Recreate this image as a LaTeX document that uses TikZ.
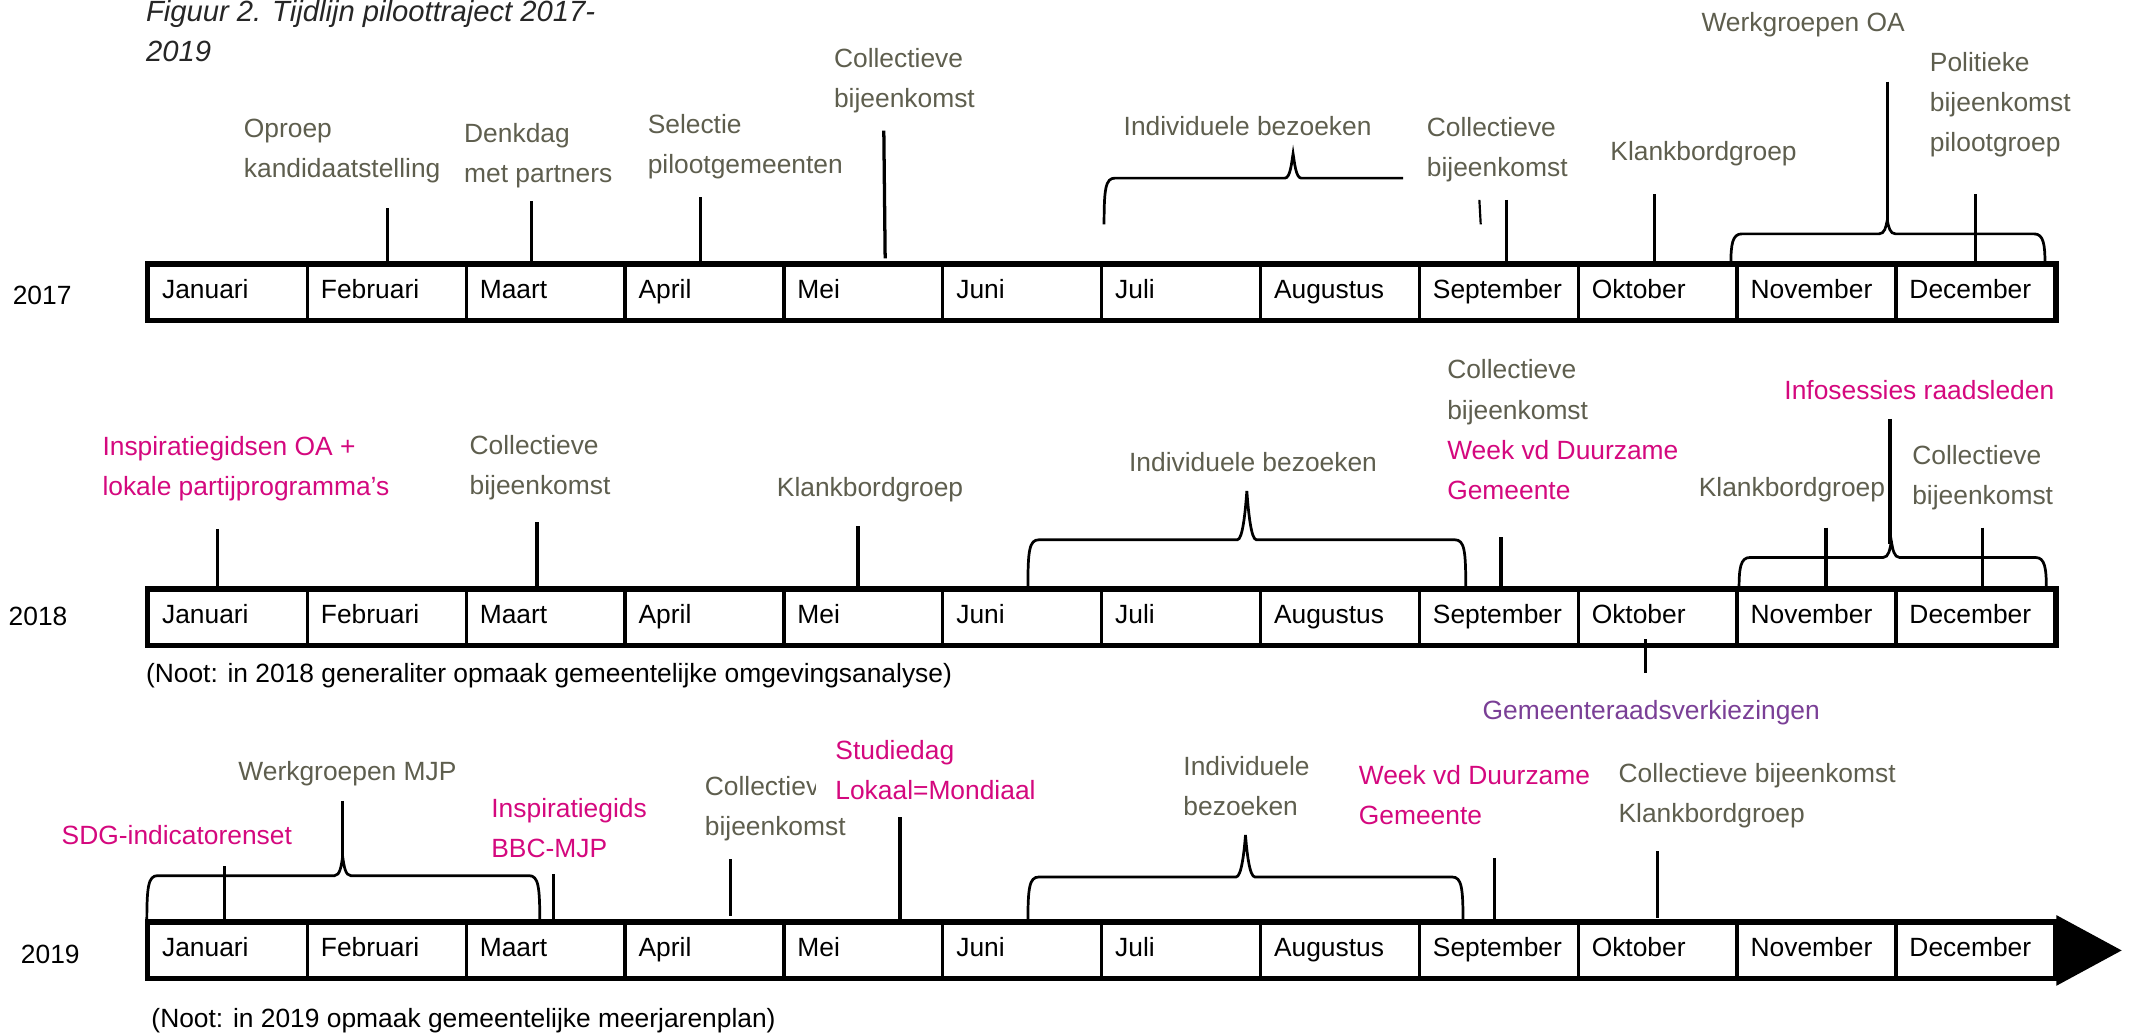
\documentclass[tikz,border=0pt]{standalone}
\usepackage{fontspec}
\setmainfont{Liberation Sans}
\usetikzlibrary{positioning}
\definecolor{labgray}{HTML}{5E5E4E}
\definecolor{hotpink}{HTML}{D4087E}
\definecolor{purp}{HTML}{7A3F96}
\begin{document}
\begin{tikzpicture}[x=0.5pt, y=-0.5pt,
 lbl/.style={font=\fontsize{9.7}{14.75}\selectfont, text=labgray, align=left, anchor=west, inner sep=0pt, yshift=-1pt},
 hot/.style={lbl, text=hotpink},
 plain/.style={lbl, text=black},
 month/.style={draw, line width=1.2pt, anchor=west, minimum width=58.42pt, minimum height=20pt, inner xsep=5pt, text width=48.42pt, align=left, font=\fontsize{9.7}{11}\selectfont},
 frame/.style={line width=1.6pt},
 tick/.style={line width=1.2pt},
 brace/.style={line width=1pt}]
\useasboundingbox (0,0) rectangle (1568,760);
% title
\node[plain, font=\fontsize{10.75}{14.7}\selectfont\itshape, text=black!85] (title) at (107,21) {Figuur 2. Tijdlijn piloottraject 2017-\\2019};
% the three year bars
\foreach \yr/\yy in {17/215, 18/454, 19/699}{
 \foreach \m [count=\i] in {Januari,Februari,Maart,April,Mei,Juni,Juli,Augustus,September,Oktober,November,December}{
  \node[month] (m\yr-\i) at ({108+(\i-1)*116.83},\yy) {\strut\m};
 }
 \draw[frame] (m\yr-1.north west) rectangle (m\yr-12.south east);
}
\fill (m19-12.east) ++(0,-26) -- ++(48,26) -- ++(-48,26) -- cycle;
\node[plain] (y17) at (9,215) {2017};
\node[plain] (y18) at (6,451) {2018};
\node[plain] (y19) at (15,700) {2019};

% 2017
\node[lbl] (oproep) at (179,109) {Oproep\\kandidaatstelling};
\node[lbl] (denkdag) at (341,112.5) {Denkdag\\met partners};
\node[lbl] (selectie) at (476,106) {Selectie\\pilootgemeenten};
\node[lbl] (coll17a) at (613,57.5) {Collectieve\\bijeenkomst};
\node[lbl] (indiv17) at (826,91) {Individuele bezoeken};
\node[lbl] (coll17b) at (1049,108) {Collectieve\\bijeenkomst};
\node[lbl] (klank17) at (1184,111) {Klankbordgroep};
\node[lbl] (werkoa) at (1251,16) {Werkgroepen OA};
\node[lbl] (politiek) at (1419,75) {Politieke\\bijeenkomst\\pilootgroep};
\draw[tick] (285,153) -- (285,196);
\draw[tick] (391,148) -- (391,196);
\draw[tick] (515,145) -- (515,193);
\draw[tick] (650,96) -- (651,190);
\draw[tick] (1108,147) -- (1108,194);
\draw[tick] (1217,143) -- (1217,193);
\draw[tick] (1453,143) -- (1453,193);
\draw[tick] (1388,60) -- (1388,164);
\draw[line width=0.8pt] (1088,147) -- (1089,165);
\draw[brace] (812,165) .. controls (812,139) and (813,131) .. (820,131) -- (945,131) .. controls (949,131) and (950,119) .. (951,113) .. controls (952,119) and (953,131) .. (957,131) -- (1032,131);
\draw[brace] (1273,194) .. controls (1273,180) and (1274,172) .. (1281,172) -- (1382,172) .. controls (1386,172) and (1387,167) .. (1388,162) .. controls (1389,167) and (1390,172) .. (1394,172) -- (1496,172) .. controls (1503,172) and (1504,180) .. (1504,194);

% 2018
\node[hot] (insp18) at (75,343) {Inspiratiegidsen OA +\\lokale partijprogramma’s};
\node[lbl] (coll18a) at (345,342) {Collectieve\\bijeenkomst};
\node[lbl] (klank18a) at (571,358) {Klankbordgroep};
\node[lbl] (indiv18) at (830,338) {Individuele bezoeken};
\node[lbl] (coll18b) at (1064,314) {Collectieve\\bijeenkomst\\\textcolor{hotpink}{Week vd Duurzame}\\\textcolor{hotpink}{Gemeente}};
\node[hot] (info18) at (1312,285) {Infosessies raadsleden};
\node[lbl] (klank18b) at (1249,358) {Klankbordgroep};
\node[lbl] (coll18c) at (1406,349) {Collectieve\\bijeenkomst};
\node[plain] (noot18) at (107,495) {(Noot: in 2018 generaliter opmaak gemeentelijke omgevingsanalyse)};
\node[lbl, text=purp] (verkiez) at (1090,522) {Gemeenteraadsverkiezingen};
\draw[tick] (160,389) -- (160,433);
\draw[tick] (395,384) -- (395,433);
\draw[tick] (631,387) -- (631,433);
\draw[tick] (1104,395) -- (1104,433);
\draw[tick] (1343,388) -- (1343,433);
\draw[tick] (1458,388) -- (1458,433);
\draw[tick] (1390,308) -- (1390,400);
\draw[tick] (1210,470) -- (1210,495);
\draw[brace] (756,431) .. controls (756,405) and (757,397) .. (764,397) -- (910,397) .. controls (914,397) and (916,375) .. (917,361) .. controls (918,375) and (920,397) .. (924,397) -- (1070,397) .. controls (1077,397) and (1078,405) .. (1078,431);
\draw[brace] (1279,433) .. controls (1279,418) and (1280,410) .. (1287,410) -- (1385,410) .. controls (1389,410) and (1390,404) .. (1391,398) .. controls (1392,404) and (1393,410) .. (1397,410) -- (1497,410) .. controls (1504,410) and (1505,418) .. (1505,433);

% 2019
\node[hot] (sdg) at (45,612) {SDG-indicatorenset};
\node[lbl] (werkmjp) at (175,567) {Werkgroepen MJP};
\node[hot] (insp19) at (361,607) {Inspiratiegids\\BBC-MJP};
\node[lbl] (coll19a) at (518,593) {Collectieve\\bijeenkomst};
\node[hot, fill=white, inner xsep=7pt, inner ysep=1pt] (studie) at (600,564.5) {Studiedag\\Lokaal=Mondiaal};
\node[lbl] (indiv19) at (870,576) {Individuele\\bezoeken};
\node[hot] (week19) at (999,583) {Week vd Duurzame\\Gemeente};
\node[lbl] (coll19b) at (1190,583) {Collectieve bijeenkomst\\Klankbordgroep};
\node[plain] (noot19) at (111,749) {(Noot: in 2019 opmaak gemeentelijke meerjarenplan)};
\draw[tick] (165,637) -- (165,678);
\draw[tick] (407,643) -- (407,678);
\draw[tick] (537,632) -- (537,674);
\draw[tick] (662,601) -- (662,678);
\draw[tick] (1099,631) -- (1099,678);
\draw[tick] (1219,626) -- (1219,675);
\draw[tick] (252,589) -- (252,633);
\draw[brace] (108,678) .. controls (108,652) and (109,644) .. (116,644) -- (246,644) .. controls (250,644) and (251,637) .. (252,630) .. controls (253,637) and (254,644) .. (258,644) -- (389,644) .. controls (396,644) and (397,652) .. (397,678);
\draw[brace] (756,678) .. controls (756,653) and (757,645) .. (764,645) -- (909,645) .. controls (913,645) and (915,627) .. (916,614) .. controls (917,627) and (919,645) .. (923,645) -- (1068,645) .. controls (1075,645) and (1076,653) .. (1076,678);
\end{tikzpicture}
\end{document}
